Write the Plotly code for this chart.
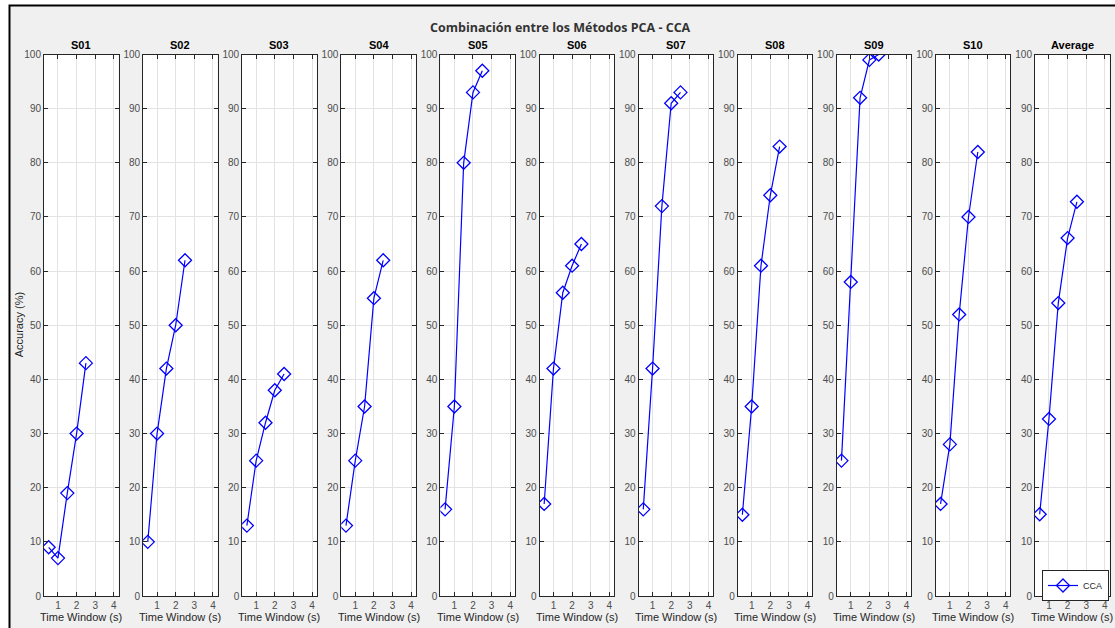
import plotly.graph_objects as go
from plotly.subplots import make_subplots

W, H = 1115, 628

time_window = [0.5, 1.0, 1.5, 2.0, 2.5]
panel_titles = ["S01", "S02", "S03", "S04", "S05", "S06", "S07", "S08", "S09", "S10", "Average"]
s01 = [9, 7, 19, 30, 43]
s02 = [10, 30, 42, 50, 62]
s03 = [13, 25, 32, 38, 41]
s04 = [13, 25, 35, 55, 62]
s05 = [16, 35, 80, 93, 97]
s06 = [17, 42, 56, 61, 65]
s07 = [16, 42, 72, 91, 93]
s08 = [15, 35, 61, 74, 83]
s09 = [25, 58, 92, 99, 100]
s10 = [17, 28, 52, 70, 82]
average = [15.1, 32.7, 54.1, 66.1, 72.8]
series = [s01, s02, s03, s04, s05, s06, s07, s08, s09, s10, average]
y_ticks = [0, 10, 20, 30, 40, 50, 60, 70, 80, 90, 100]
x_ticks = [1, 2, 3, 4]

n = len(panel_titles)
fig = make_subplots(rows=1, cols=n)

BLUE = "rgb(0,0,255)"
AX = "#262626"
TICKC = "#4d4d4d"
FONT = "Liberation Sans, Arial"

for i, (name, vals) in enumerate(zip(panel_titles, series)):
    fig.add_trace(go.Scatter(
        x=time_window, y=vals, mode="lines+markers", name="CCA",
        line=dict(color=BLUE, width=1.2),
        marker=dict(symbol="diamond-open", size=10, color=BLUE, line=dict(width=1.3, color=BLUE)),
        showlegend=(i == n - 1),
    ), row=1, col=i + 1)

left0, pitch, width = 44.0, 99.1, 74.5
ytop, ybot = 54.5, 596.0

for i in range(n):
    l = left0 + pitch * i
    r = l + width
    xa = "xaxis" if i == 0 else f"xaxis{i+1}"
    ya = "yaxis" if i == 0 else f"yaxis{i+1}"
    fig.layout[xa].update(
        domain=[l / W, r / W], range=[0.25, 4.25], tickvals=x_ticks, automargin=False,
        ticks="inside", ticklen=4, tickcolor=AX, showline=True, linecolor=AX, linewidth=1,
        mirror="ticks", showgrid=True, gridcolor="#e3e3e3", gridwidth=1, zeroline=False,
        tickfont=dict(family=FONT, size=10, color=TICKC),
    )
    fig.layout[ya].update(
        domain=[1 - ybot / H, 1 - ytop / H], range=[0, 100], tickvals=y_ticks, automargin=False,
        ticks="inside", ticklen=4, tickcolor=AX, showline=True, linecolor=AX, linewidth=1,
        mirror="ticks", showgrid=True, gridcolor="#e3e3e3", gridwidth=1, zeroline=False,
        tickfont=dict(family=FONT, size=10, color=TICKC),
    )
    fig.add_annotation(
        x=(l + r) / 2 / W, y=1 - (ytop - 1) / H, xref="paper", yref="paper",
        text=f"<b>{panel_titles[i]}</b>", showarrow=False, xanchor="center", yanchor="bottom",
        font=dict(family=FONT, size=11, color="#000000"),
    )
    fig.add_annotation(
        x=(l + r) / 2 / W, y=1 - 617 / H, xref="paper", yref="paper",
        text="Time Window (s)", showarrow=False, xanchor="center", yanchor="middle",
        font=dict(family=FONT, size=11, color="#262626"),
    )

fig.add_annotation(
    x=19 / W, y=1 - (ytop + ybot) / 2 / H, xref="paper", yref="paper",
    text="Accuracy (%)", showarrow=False, textangle=-90, xanchor="center", yanchor="middle",
    font=dict(family=FONT, size=11, color="#262626"),
)

# white outside strips and figure frame
fig.add_shape(type="rect", xref="paper", yref="paper", x0=-0.01, x1=9.5 / W, y0=-0.01, y1=1.01,
              line=dict(width=0), fillcolor="#ffffff", layer="below")
fig.add_shape(type="rect", xref="paper", yref="paper", x0=-0.01, x1=1.01, y0=1 - 5.5 / H, y1=1.01,
              line=dict(width=0), fillcolor="#ffffff", layer="below")
fig.add_shape(type="rect", xref="paper", yref="paper", x0=9.5 / W, x1=1.01, y0=-0.01, y1=1 - 5.5 / H,
              line=dict(color="#000000", width=2), fillcolor="rgba(0,0,0,0)", layer="above")

fig.add_annotation(
    x=560 / W, y=1 - 27 / H, xref="paper", yref="paper",
    text="<b>Combinación entre los Métodos PCA - CCA</b>", showarrow=False, xanchor="center", yanchor="middle",
    font=dict(family="Open Sans, Noto Sans", size=12.5, color="#333333"),
)

fig.update_layout(
    width=W, height=H, margin=dict(l=0, r=0, t=0, b=0, autoexpand=False),
    paper_bgcolor="#f0f0f0", plot_bgcolor="#ffffff",
    showlegend=True,
    legend=dict(x=1042 / W, y=1 - 570 / H, xanchor="left", yanchor="top",
                bgcolor="#ffffff", bordercolor=AX, borderwidth=1,
                font=dict(family=FONT, size=9, color="#262626"),
                itemwidth=30, tracegroupgap=0),
)

fig.write_html("out.html")
